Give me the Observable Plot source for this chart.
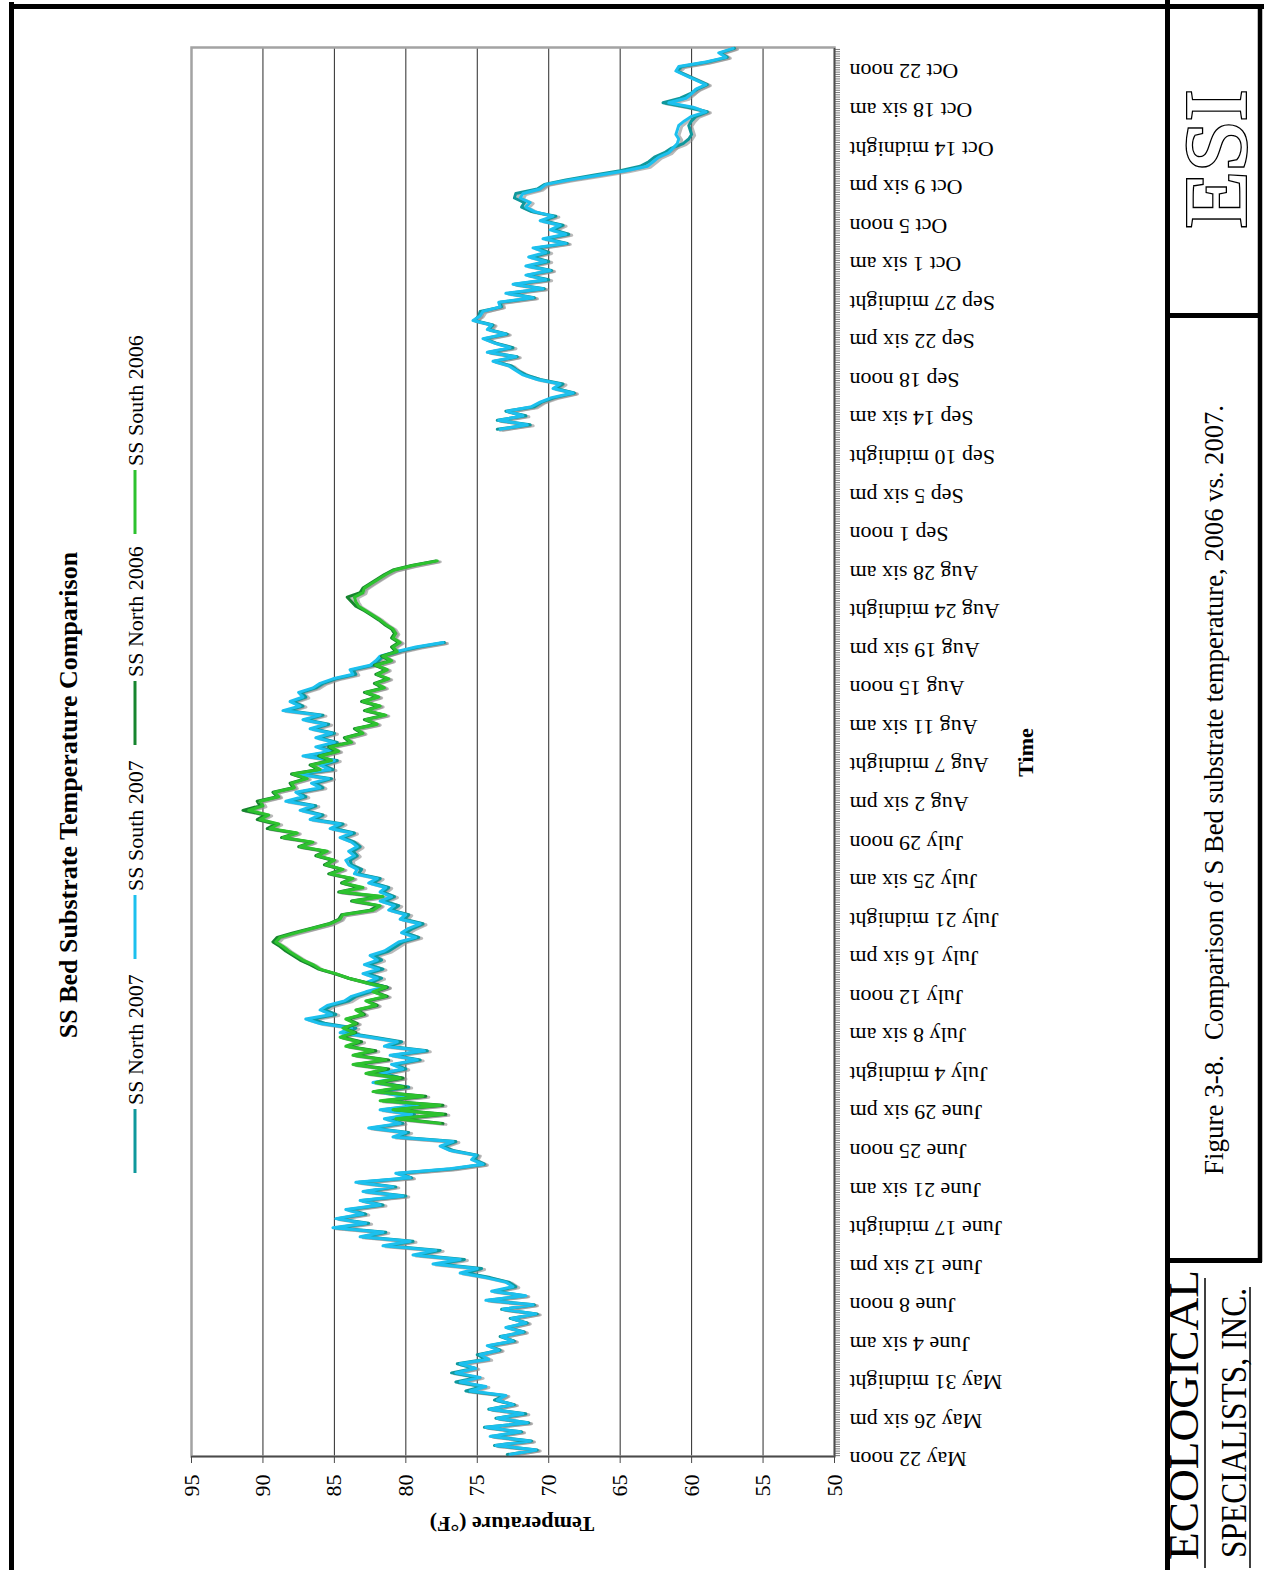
<!DOCTYPE html>
<html><head><meta charset="utf-8">
<script src="https://cdn.jsdelivr.net/npm/d3@7"></script>
<script src="https://cdn.jsdelivr.net/npm/@observablehq/plot@0.6"></script>
<style>
html,body{margin:0;padding:0;background:#fff;width:1264px;height:1570px;overflow:hidden;}
#page{position:absolute;left:0;top:0;width:1570px;height:1264px;transform-origin:0 0;transform:translate(0px,1570px) rotate(-90deg);background:#fff;}
#page > svg{position:absolute;left:0;top:0;}
</style></head><body><div id="page"></div>
<script>
// ---------------- DATA ----------------
// time axis: days since May 22 noon; one label every 4.25 days (17 six-hour categories)
const timeLabels = ["May 22 noon","May 26 six pm","May 31 midnight","June 4 six am","June 8 noon","June 12 six pm","June 17 midnight","June 21 six am","June 25 noon","June 29 six pm","July 4 midnight","July 8 six am","July 12 noon","July 16 six pm","July 21 midnight","July 25 six am","July 29 noon","Aug 2 six pm","Aug 7 midnight","Aug 11 six am","Aug 15 noon","Aug 19 six pm","Aug 24 midnight","Aug 28 six am","Sep 1 noon","Sep 5 six pm","Sep 10 midnight","Sep 14 six am","Sep 18 noon","Sep 22 six pm","Sep 27 midnight","Oct 1 six am","Oct 5 noon","Oct 9 six pm","Oct 14 midnight","Oct 18 six am","Oct 22 noon"];
const labelStep = 4.25;      // days between labels
const categoryStep = 0.25;   // six-hour categories
const tempTicks = [50, 55, 60, 65, 70, 75, 80, 85, 90, 95];

const seriesNames = ["SS North 2007", "SS South 2007", "SS North 2006", "SS South 2006"];
const seriesColors = ["#0f989c", "#1cc0ee", "#16852e", "#2dc22f"];

const sampleStep = 0.5;       // half-day readings
const summer2007Start = 0;    // May 22 noon
const fall2007Start = 113;    // Sep 12 noon
const summer2006Start = 36.5; // June 28

const north2007Summer = [72.9,70.8,73.8,71.2,74.0,71.9,74.5,71.4,73.7,71.6,
74.2,72.4,73.8,73.1,75.8,74.6,76.5,75.0,76.8,75.2,
76.4,74.4,75.0,73.4,74.2,72.4,73.4,71.7,72.9,71.5,
72.7,70.8,73.3,71.0,74.2,71.7,73.8,72.3,72.8,74.1,
75.8,74.7,77.7,75.9,79.2,77.6,81.3,79.5,83.0,81.4,
84.9,82.6,84.8,82.8,84.0,81.6,83.1,80.0,82.8,80.7,
83.3,79.6,80.5,76.7,74.5,75.2,75.0,76.7,77.4,76.5,
80.6,79.8,82.4,80.2,81.3,79.4,81.6,79.0,80.8,80.0,
81.8,79.8,82.1,80.3,81.6,80.0,80.8,79.0,80.9,78.5,
81.2,80.3,82.2,84.2,83.5,85.6,86.6,84.9,85.7,85.2,
84.0,83.5,82.5,81.3,82.5,81.7,82.7,81.6,82.6,81.7,
82.2,81.2,80.7,80.2,79.1,80.0,79.5,78.8,80.1,79.8,
81.0,80.5,81.5,80.8,81.6,81.2,82.3,81.8,83.3,83.1,
83.8,83.9,83.4,83.7,83.2,83.6,84.4,83.6,85.0,84.4,
86.4,85.8,87.1,86.3,88.1,87.0,87.5,85.8,86.3,85.2,
87.4,85.1,85.8,84.8,87.0,85.1,86.1,84.8,86.1,85.0,
86.5,85.4,87.0,85.8,88.3,87.2,87.9,87.0,87.3,86.3,
85.8,84.9,83.5,83.7,82.3,81.9,81.6,80.5,79.1,77.3];

const south2007Summer = [72.7,70.9,73.7,71.3,74.1,72.0,74.4,71.5,73.6,71.8,
74.1,72.5,73.6,73.0,75.5,74.4,76.2,74.8,76.5,75.1,
76.2,74.2,74.8,73.5,74.3,72.5,73.3,71.8,73.0,71.6,
72.6,70.9,73.2,71.1,74.4,71.6,74.0,72.5,73.0,74.4,
76.2,75.0,78.1,76.2,79.5,77.9,81.6,79.7,83.2,81.6,
85.1,82.8,84.9,83.0,84.2,81.8,83.2,80.2,83.0,80.9,
83.5,79.7,80.7,76.9,74.6,75.4,75.1,76.9,77.6,76.7,
80.9,80.0,82.6,80.4,81.5,79.6,81.8,79.2,81.0,80.2,
82.0,80.0,82.3,80.5,81.8,80.2,81.0,79.2,81.1,78.7,
81.5,80.6,82.5,84.6,83.8,86.0,87.0,85.2,86.0,85.5,
84.3,83.8,82.8,81.6,82.8,82.0,83.0,81.9,82.9,82.0,
82.5,81.5,81.0,80.5,79.3,80.3,79.8,79.0,80.4,80.0,
81.2,80.8,81.8,81.0,81.8,81.4,82.6,82.0,83.6,83.4,
84.0,84.2,83.6,84.0,83.4,83.8,84.6,83.8,85.3,84.6,
86.7,86.0,87.4,86.5,88.4,87.2,87.7,86.0,86.6,85.4,
87.7,85.3,86.0,85.0,87.2,85.3,86.3,85.0,86.3,85.2,
86.7,85.6,87.2,86.0,88.6,87.4,88.1,87.2,87.5,86.5,
86.0,85.1,83.7,83.9,82.5,82.1,81.8,80.7,79.3,77.4];

const north2007Fall = [73.6,71.3,73.6,71.6,73.0,71.0,70.5,69.6,68.2,69.5,
69.0,70.6,71.6,72.2,72.6,73.8,72.2,74.2,72.5,73.7,
74.5,72.9,74.2,73.9,75.2,74.9,74.8,73.3,73.4,71.0,
72.8,70.3,72.4,70.0,71.5,69.8,71.4,70.0,71.2,70.0,
70.9,68.7,70.2,68.6,69.7,69.0,70.4,69.5,71.2,71.9,
71.7,72.4,72.3,70.8,70.3,68.8,66.9,65.0,63.6,63.0,
62.6,61.9,61.4,60.6,60.2,60.0,60.1,60.2,60.0,59.7,
58.9,60.3,62.0,60.8,60.1,59.6,58.9,59.6,60.3,61.0,
60.7,58.9,57.5,58.0,57.0];

const south2007Fall = [73.4,71.5,73.5,71.8,72.9,71.2,70.6,69.8,68.3,69.7,
69.2,70.8,71.8,72.3,72.8,73.9,72.3,74.3,72.7,73.8,
74.6,73.0,74.3,74.0,75.3,74.8,74.6,73.4,73.5,71.1,
73.0,70.4,72.5,70.2,71.6,69.9,71.6,70.2,71.4,70.2,
71.1,68.8,70.4,68.8,69.9,69.2,70.6,69.7,71.0,71.6,
71.3,72.0,71.8,70.6,70.2,68.5,66.5,64.6,63.1,62.7,
62.3,61.6,61.3,61.0,60.9,61.1,61.0,60.9,60.5,60.0,
59.0,59.9,61.6,60.4,60.0,59.7,59.0,59.7,60.4,61.1,
60.9,59.0,57.6,58.1,57.1];

const north2006 = [77.4,80.5,77.2,80.8,77.4,81.6,78.6,82.2,80.0,82.0,
80.2,82.7,81.2,83.6,81.2,83.6,82.1,84.1,83.1,84.5,
83.5,84.3,83.4,84.1,82.9,83.4,82.0,82.7,81.3,82.2,
81.3,82.7,84.0,85.0,86.1,86.7,87.4,87.9,88.4,88.8,
89.3,89.0,87.9,86.6,85.4,84.7,84.5,82.5,81.9,83.8,
81.8,84.7,83.2,84.5,83.8,85.4,84.5,85.7,85.1,86.3,
85.6,87.5,86.6,88.7,87.7,89.7,89.1,90.4,89.8,91.4,
90.2,90.4,89.0,89.3,87.9,88.1,87.0,88.0,86.1,86.7,
85.3,86.1,84.8,85.4,83.9,84.3,83.1,83.6,82.1,82.9,
81.5,82.9,81.9,83.1,82.0,82.9,81.6,82.2,81.3,82.1,
81.4,82.2,81.1,81.7,80.7,81.0,80.5,81.0,80.8,81.0,
81.5,81.9,82.4,82.9,83.5,83.8,84.1,83.2,83.0,82.5,
82.0,81.5,80.9,79.6,77.9];

const south2006 = [77.6,80.7,77.4,80.9,77.6,81.8,78.8,82.3,80.2,82.1,
80.4,82.8,81.4,83.7,81.4,83.7,82.3,84.2,83.3,84.6,
83.6,84.4,83.5,84.2,83.0,83.5,82.1,82.8,81.4,82.3,
81.4,82.8,84.0,84.9,86.0,86.5,87.2,87.7,88.2,88.6,
89.1,88.8,87.7,86.5,85.3,84.6,84.4,82.3,81.8,83.7,
81.6,84.6,83.0,84.4,83.7,85.3,84.4,85.6,85.0,86.2,
85.5,87.4,86.5,88.6,87.6,89.5,88.9,90.2,89.6,91.0,
90.0,90.2,88.9,89.2,87.8,88.0,86.9,87.9,86.0,86.6,
85.2,86.0,84.7,85.3,83.8,84.2,83.0,83.5,82.0,82.8,
81.4,82.8,81.8,83.0,81.9,82.8,81.5,82.1,81.2,82.0,
81.3,82.1,81.0,81.6,80.6,80.9,80.4,80.9,80.7,80.9,
81.4,81.8,82.3,82.8,83.3,83.5,83.6,83.0,82.9,82.4,
81.9,81.4,80.8,79.5,77.8];

// ---------------- LAYOUT (landscape page, rotated -90deg onto the portrait window) ----------------
const W = 1570, H = 1264;
const plotLeft = 113, plotRight = 1522, plotTop = 191, plotBottom = 834;
const xDomain = [-0.22, 155.09];
const serif = '"Liberation Serif","Times New Roman",Times,serif';

const seg = (values, start) => values.map((v, i) => ({t: start + i * sampleStep, T: v}));
const seriesSegs = [
  [seg(north2007Summer, summer2007Start), seg(north2007Fall, fall2007Start)],
  [seg(south2007Summer, summer2007Start), seg(south2007Fall, fall2007Start)],
  [seg(north2006, summer2006Start)],
  [seg(south2006, summer2006Start)]
];

const combTicks = d3.range(xDomain[0] + 0.095, xDomain[1], categoryStep);
const labelTicks = timeLabels.map((_, i) => i * labelStep);

const shadowMarks = [];
const lineMarks = [];
seriesSegs.forEach((segs, k) => {
  segs.forEach(s => {
    shadowMarks.push(Plot.line(s, {x: "t", y: "T", stroke: "#8c8c8c", strokeOpacity: 0.6, strokeWidth: 3, dx: -1, dy: 3, strokeLinejoin: "round"}));
    lineMarks.push(Plot.line(s, {x: "t", y: "T", stroke: seriesColors[k], strokeWidth: 3, strokeLinejoin: "round"}));
  });
});

const chart = Plot.plot({
  width: W, height: H,
  marginLeft: plotLeft, marginRight: W - plotRight, marginTop: plotTop, marginBottom: H - plotBottom,
  style: {fontFamily: serif, fontSize: "22px", background: "transparent", color: "#000", overflow: "visible"},
  x: {domain: xDomain},
  y: {domain: [tempTicks[0], tempTicks[tempTicks.length - 1]]},
  marks: [
    Plot.gridY(tempTicks.slice(1, -1), {stroke: "#2a2a2a", strokeOpacity: 1, strokeWidth: 1}),
    Plot.frame({stroke: "#a3a3a3", strokeWidth: 2.5}),
    ...shadowMarks,
    ...lineMarks,
    Plot.ruleY([tempTicks[0]], {stroke: "#4a4a4a", strokeWidth: 1.5}),
    Plot.ruleX([xDomain[0]], {stroke: "#4a4a4a", strokeWidth: 1.5}),
    Plot.axisY({ticks: tempTicks, tickSize: 6, tickPadding: 12, fontSize: 22, label: null, stroke: "#4a4a4a", dy: 0}),
    Plot.axisX({ticks: combTicks, tickSize: 6, tickFormat: () => "", label: null, stroke: "#555", strokeWidth: 0.8}),
    Plot.axisX({ticks: labelTicks, tickSize: 0, tickPadding: 15, tickRotate: -90, fontSize: 22, label: null, dx: -5,
      tickFormat: d => timeLabels[Math.round(d / labelStep)]})
  ]
});
document.getElementById("page").appendChild(chart);

// ---------------- decorations: titles, legend, page frame ----------------
const deco = d3.select("#page").append("svg")
  .attr("width", W).attr("height", H)
  .style("font-family", serif).style("pointer-events", "none");

// chart title
deco.append("text").attr("x", 775).attr("y", 77).attr("text-anchor", "middle")
  .attr("font-size", 26).attr("font-weight", "bold").text("SS Bed Substrate Temperature Comparison");

// legend
const legU = [397, 611, 825, 1036];
seriesNames.forEach((name, k) => {
  deco.append("line").attr("x1", legU[k]).attr("x2", legU[k] + 64).attr("y1", 135).attr("y2", 135)
    .attr("stroke", seriesColors[k]).attr("stroke-width", 3);
  deco.append("text").attr("x", legU[k] + 68).attr("y", 135).attr("dy", "0.35em")
    .attr("font-size", 22).text(name);
});

// axis titles
deco.append("text").attr("transform", "translate(45,512) rotate(-90)").attr("text-anchor", "middle")
  .attr("dy", "0.35em").attr("font-size", 22).attr("font-weight", "bold").text("Temperature (°F)");
deco.append("text").attr("x", (plotLeft + plotRight) / 2).attr("y", 1033).attr("text-anchor", "middle")
  .attr("font-size", 22).attr("font-weight", "bold").text("Time");

// figure caption
deco.append("text").attr("x", 395).attr("y", 1223).attr("font-size", 27).text("Figure 3-8.");
deco.append("text").attr("x", 530).attr("y", 1223).attr("font-size", 27)
  .attr("textLength", 635).attr("lengthAdjust", "spacingAndGlyphs")
  .text("Comparison of S Bed substrate temperature, 2006 vs. 2007.");

// page frame lines
const blk = (x1, y1, x2, y2, w) => deco.append("line").attr("x1", x1).attr("y1", y1).attr("x2", x2).attr("y2", y2)
  .attr("stroke", "#000").attr("stroke-width", w);
blk(0, 11.5, 1568, 11.5, 5);
blk(1563.5, 9, 1563.5, H, 5);
blk(0, 1167.5, W, 1167.5, 5);
blk(308, 1260, 1566, 1260, 4.5);
blk(1254.5, 1165, 1254.5, 1262, 5);
blk(309.5, 1165, 309.5, 1262, 5);

// ESI logo (double outline)
const esi = deco.append("g").attr("font-size", 86).attr("font-family", serif);
esi.append("text").attr("x", 1342).attr("y", 1245).attr("textLength", 138).attr("lengthAdjust", "spacingAndGlyphs")
  .attr("fill", "#fff").attr("stroke", "#000").attr("stroke-width", 4).text("ESI");
esi.append("text").attr("x", 1342).attr("y", 1245).attr("textLength", 138).attr("lengthAdjust", "spacingAndGlyphs")
  .attr("fill", "#fff").attr("stroke", "#fff").attr("stroke-width", 1.4).text("ESI");

// company name
deco.append("text").attr("x", 10).attr("y", 1198).attr("font-size", 42)
  .attr("textLength", 290).attr("lengthAdjust", "spacingAndGlyphs").text("ECOLOGICAL");
blk(2, 1205, 292, 1205, 1.5);
deco.append("text").attr("x", 12).attr("y", 1246).attr("font-size", 36)
  .attr("textLength", 270).attr("lengthAdjust", "spacingAndGlyphs").text("SPECIALISTS, INC.");
blk(2, 1250, 283, 1250, 1.5);
</script></body></html>
